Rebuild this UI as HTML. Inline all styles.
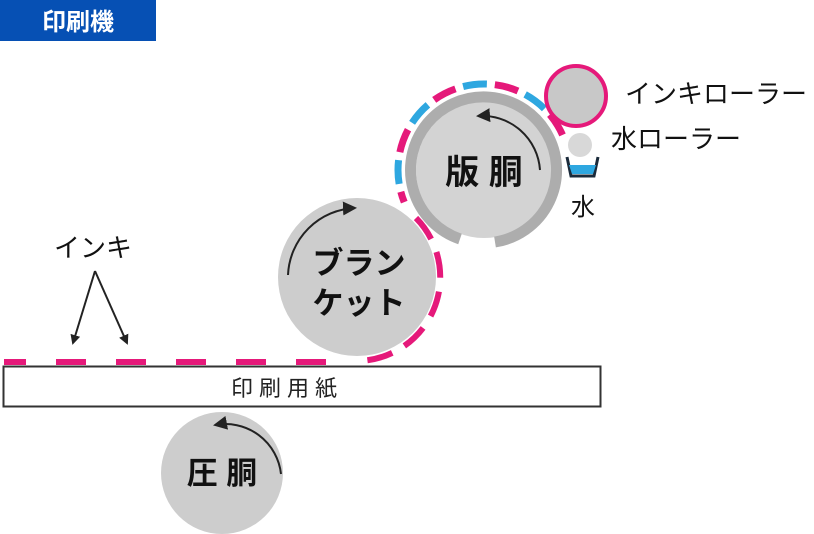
<!DOCTYPE html>
<html><head><meta charset="utf-8"><style>
html,body{margin:0;padding:0;background:#fff;width:814px;height:534px;overflow:hidden}
svg{display:block}
text{font-family:"Liberation Sans","Noto Sans CJK JP",sans-serif}
</style></head><body>
<svg width="814" height="534" viewBox="0 0 814 534" xmlns="http://www.w3.org/2000/svg">
<defs>
<marker id="ah" markerWidth="10" markerHeight="10" refX="8" refY="5" orient="auto" markerUnits="userSpaceOnUse">
<path d="M0,0 L10,5 L0,10 z" fill="#222"/></marker>
<marker id="ah2" markerWidth="14" markerHeight="14" refX="12" refY="7" orient="auto" markerUnits="userSpaceOnUse">
<path d="M0,0 L14,7 L0,14 z" fill="#222"/></marker>
<clipPath id="pc"><polygon points="484,170 620,110 620,0 350,0 350,224"/></clipPath>
</defs>
<rect x="0" y="0" width="156" height="41" fill="#0650b4"/>
<text x="78" y="30" font-size="24" font-weight="bold" fill="#fff" text-anchor="middle">印刷機</text>

<!-- plate dashed ring -->
<g clip-path="url(#pc)" fill="none" stroke-width="7">
<circle cx="484" cy="170" r="86" stroke="#2ea7e0" stroke-dasharray="24 40"/>
<circle cx="484" cy="170" r="86" stroke="#e5197a" stroke-dasharray="24 40" stroke-dashoffset="32"/>
</g>
<!-- plate cylinder -->
<circle cx="484" cy="170" r="68" fill="#d3d3d3"/>
<path d="M 460 239 A 73 73 0 1 1 495 242" fill="none" stroke="#adadad" stroke-width="11"/>
<path d="M 540 170 A 58 58 0 0 0 478 116" fill="none" stroke="#222" stroke-width="2" marker-end="url(#ah2)"/>
<text x="484" y="184" font-size="34" font-weight="bold" fill="#111" text-anchor="middle">版 胴</text>

<!-- ink roller -->
<circle cx="576" cy="96" r="30" fill="#c8c8c8" stroke="#e5197a" stroke-width="4"/>
<text x="625" y="103" font-size="26" fill="#111">インキローラー</text>
<!-- water roller -->
<circle cx="580" cy="145" r="12" fill="#d8d8d8"/>
<text x="611" y="148" font-size="26" fill="#111">水ローラー</text>
<path d="M567 157 L571 176 L594 176 L598 157" fill="none" stroke="#1a2a3a" stroke-width="3"/>
<path d="M569 165 L572 174 L593 174 L596 165 z" fill="#2ea7e0"/>
<text x="583" y="215" font-size="24" fill="#111" text-anchor="middle">水</text>

<!-- blanket -->
<circle cx="357" cy="277" r="79" fill="#cdcdcd"/>
<path d="M 416 218 A 84 84 0 0 1 355 361" fill="none" stroke="#e5197a" stroke-width="6" stroke-dasharray="26 14"/>
<path d="M 288 275 A 70 70 0 0 1 355 208" fill="none" stroke="#222" stroke-width="2" marker-end="url(#ah2)"/>
<text x="359" y="274" font-size="31" font-weight="bold" fill="#111" text-anchor="middle">ブラン</text>
<text x="359" y="314" font-size="31" font-weight="bold" fill="#111" text-anchor="middle">ケット</text>

<!-- ink dashes on paper -->
<line x1="4" y1="362" x2="356" y2="362" stroke="#e5197a" stroke-width="6" stroke-dasharray="22 30 30 30 30 30 30 30 30 30 30 30 30 30"/>
<!-- paper -->
<rect x="3.5" y="366.5" width="597" height="40" fill="#fff" stroke="#333" stroke-width="2"/>
<text x="287" y="396" font-size="22" fill="#222" text-anchor="middle" letter-spacing="6">印刷用紙</text>

<!-- ink label -->
<text x="54" y="257" font-size="26" fill="#111">インキ</text>
<line x1="95" y1="271" x2="73" y2="343" stroke="#222" stroke-width="2" marker-end="url(#ah)"/>
<line x1="95" y1="271" x2="127" y2="343" stroke="#222" stroke-width="2" marker-end="url(#ah)"/>

<!-- impression cylinder -->
<circle cx="222" cy="473" r="61" fill="#cdcdcd"/>
<path d="M 281 474 A 56 56 0 0 0 215 425" fill="none" stroke="#222" stroke-width="2" marker-end="url(#ah2)"/>
<text x="222" y="484" font-size="31" font-weight="bold" fill="#111" text-anchor="middle">圧 胴</text>
</svg>
</body></html>
